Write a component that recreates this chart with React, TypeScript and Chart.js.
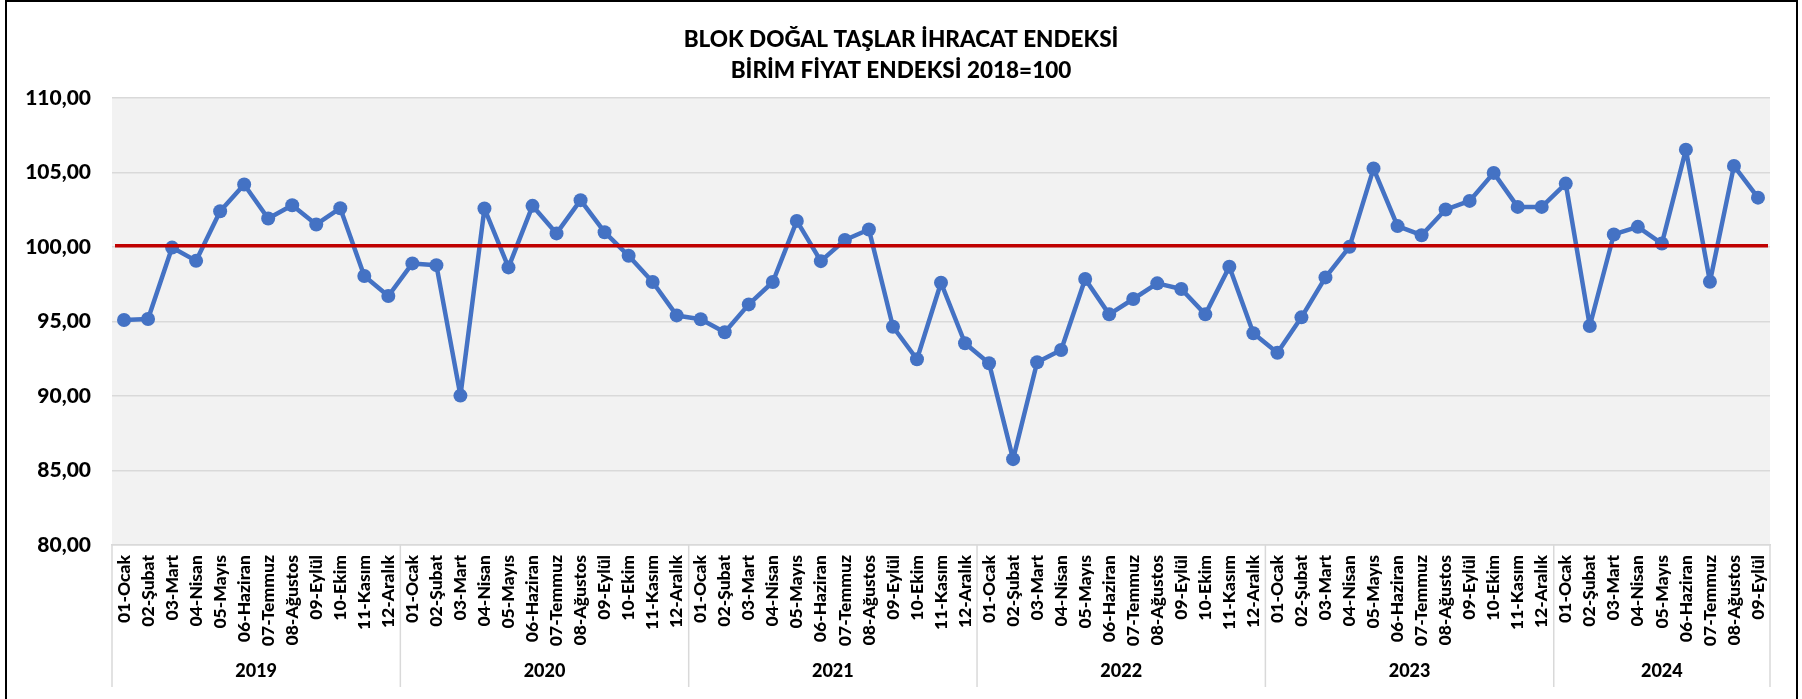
import React, { useEffect, useRef } from "react";
import { Chart, registerables } from "chart.js";

Chart.register(...registerables);

const TITLE_LINES = ["BLOK DOĞAL TAŞLAR İHRACAT ENDEKSİ", "BİRİM FİYAT ENDEKSİ 2018=100"];
const MONTH_LABELS = [
  "01-Ocak", "02-Şubat", "03-Mart", "04-Nisan", "05-Mayıs", "06-Haziran",
  "07-Temmuz", "08-Ağustos", "09-Eylül", "10-Ekim", "11-Kasım", "12-Aralık",
];
const YEARS = ["2019", "2020", "2021", "2022", "2023", "2024"];
const VALUES_2019 = [95.09, 95.16, 99.95, 99.06, 102.39, 104.18, 101.9, 102.79, 101.5, 102.59, 98.04, 96.7];
const VALUES_2020 = [98.89, 98.77, 90.02, 102.57, 98.62, 102.75, 100.9, 103.13, 100.98, 99.4, 97.64, 95.4];
const VALUES_2021 = [95.14, 94.27, 96.14, 97.64, 101.74, 99.04, 100.46, 101.16, 94.64, 92.46, 97.59, 93.53];
const VALUES_2022 = [92.19, 85.76, 92.26, 93.08, 97.84, 95.47, 96.5, 97.55, 97.17, 95.47, 98.66, 94.2];
const VALUES_2023 = [92.9, 95.27, 97.95, 100.0, 105.25, 101.39, 100.78, 102.5, 103.08, 104.96, 102.68, 102.68];
const VALUES_2024 = [104.24, 94.69, 100.83, 101.34, 100.22, 106.52, 97.66, 105.43, 103.3];
const YEAR_VALUES = [VALUES_2019, VALUES_2020, VALUES_2021, VALUES_2022, VALUES_2023, VALUES_2024];
const REFERENCE_VALUE = 100;
const Y_MIN = 80;
const Y_MAX = 110;
const Y_STEP = 5;

const FONT = "Lato, 'Open Sans', sans-serif";

export default function App() {
  const canvasRef = useRef<HTMLCanvasElement | null>(null);

  useEffect(() => {
    const canvas = canvasRef.current;
    if (!canvas) return;

    const labels: string[] = [];
    const values: number[] = [];
    const groups: { year: string; start: number; end: number }[] = [];
    YEAR_VALUES.forEach((arr, yi) => {
      const start = labels.length;
      arr.forEach((v, mi) => {
        labels.push(MONTH_LABELS[mi]);
        values.push(v);
      });
      groups.push({ year: YEARS[yi], start, end: labels.length - 1 });
    });

    const decorPlugin = {
      id: "decor",
      beforeDraw(chart: any) {
        const { ctx, chartArea } = chart;
        ctx.save();
        ctx.fillStyle = "#F2F2F2";
        ctx.fillRect(chartArea.left, chartArea.top, chartArea.right - chartArea.left, chartArea.bottom - chartArea.top);
        ctx.restore();
      },
      afterDatasetsDraw(chart: any) {
        const { ctx, chartArea, scales } = chart;
        const y = scales.y.getPixelForValue(REFERENCE_VALUE) - 1;
        ctx.save();
        ctx.strokeStyle = "#C00000";
        ctx.lineWidth = 3.5;
        ctx.beginPath();
        ctx.moveTo(chartArea.left + 3, y);
        ctx.lineTo(chartArea.right - 2, y);
        ctx.stroke();
        ctx.restore();
      },
      afterDraw(chart: any) {
        const { ctx, chartArea, scales } = chart;
        const xs = scales.x;
        const bottomLine = 687;
        const boundaries: number[] = [chartArea.left];
        groups.forEach((g, i) => {
          if (i < groups.length - 1) {
            boundaries.push((xs.getPixelForValue(g.end) + xs.getPixelForValue(g.end + 1)) / 2);
          }
        });
        boundaries.push(chartArea.right);
        ctx.save();
        ctx.strokeStyle = "#D9D9D9";
        ctx.lineWidth = 1.5;
        boundaries.forEach((bx) => {
          ctx.beginPath();
          ctx.moveTo(bx, chartArea.bottom);
          ctx.lineTo(bx, bottomLine);
          ctx.stroke();
        });
        ctx.fillStyle = "#000";
        ctx.font = `900 18px ${FONT}`;
        ctx.textAlign = "center";
        ctx.textBaseline = "middle";
        groups.forEach((g, i) => {
          const cx = (boundaries[i] + boundaries[i + 1]) / 2;
          ctx.fillText(g.year, cx, 671);
        });
        ctx.restore();
      },
    };

    const chart = new Chart(canvas, {
      type: "line",
      data: {
        labels,
        datasets: [
          {
            data: values,
            borderColor: "#4472C4",
            backgroundColor: "#4472C4",
            borderWidth: 4.5,
            borderJoinStyle: "round",
            borderCapStyle: "round",
            pointRadius: 7,
            pointBackgroundColor: "#4472C4",
            pointBorderWidth: 0,
            tension: 0,
          },
        ],
      },
      options: {
        responsive: false,
        animation: false,
        devicePixelRatio: 1,
        layout: { padding: { left: 0, right: 0, top: 0, bottom: 0 } },
        plugins: {
          legend: { display: false },
          tooltip: { enabled: false },
          title: {
            display: true,
            text: TITLE_LINES,
            color: "#000",
            font: { family: FONT, size: 22.5, weight: 900, lineHeight: 1.35 },
            padding: { top: 25, bottom: 12 },
          },
        },
        scales: {
          x: {
            type: "category",
            offset: true,
            grid: { display: false, drawTicks: false },
            border: { display: true, color: "#D9D9D9", width: 1.5 },
            ticks: {
              autoSkip: false,
              minRotation: 90,
              maxRotation: 90,
              padding: 10,
              color: "#000",
              font: { family: FONT, size: 17.5, weight: 900 },
            },
            afterFit(scale: any) {
              scale.height = 154;
            },
          },
          y: {
            min: Y_MIN,
            max: Y_MAX,
            grid: { color: "#D9D9D9", lineWidth: 1.5, drawTicks: false },
            border: { display: false },
            ticks: {
              stepSize: Y_STEP,
              padding: 21,
              color: "#000",
              font: { family: FONT, size: 21, weight: 900 },
              callback: (v: any) => Number(v).toFixed(2).replace(".", ","),
            },
            afterFit(scale: any) {
              scale.width = 112;
            },
          },
          rightSpacer: {
            type: "linear",
            position: "right",
            display: true,
            grid: { display: false, drawTicks: false },
            border: { display: false },
            ticks: { display: false },
            afterFit(scale: any) {
              scale.width = 32;
            },
          },
        },
      },
      plugins: [decorPlugin],
    });

    return () => chart.destroy();
  }, []);

  return (
    <div style={{ position: "absolute", left: 0, top: 0, width: 1802, height: 699, background: "#fff" }}>
      <canvas ref={canvasRef} width={1802} height={699} style={{ display: "block", width: 1802, height: 699 }} />
      <div
        style={{
          position: "absolute",
          left: 5,
          top: 0,
          width: 1793,
          height: 699,
          boxSizing: "border-box",
          borderLeft: "2px solid #000",
          borderTop: "2px solid #000",
          borderRight: "2px solid #000",
          pointerEvents: "none",
        }}
      />
    </div>
  );
}
